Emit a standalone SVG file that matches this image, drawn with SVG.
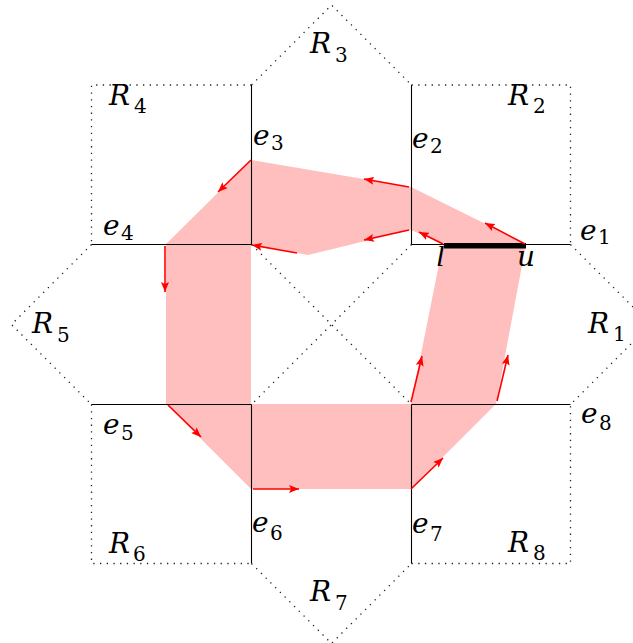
<svg xmlns="http://www.w3.org/2000/svg" width="633" height="643" viewBox="0 0 633 643">
<defs>
<marker id="ah" markerWidth="11" markerHeight="8" refX="10" refY="4" orient="auto" markerUnits="userSpaceOnUse">
<path d="M0,0 L10,4 L0,8 L2,4 Z" fill="#ff0000"/>
</marker>
<style>
.edge{stroke:#000;stroke-width:1.1;fill:none}
.dot{stroke:#222;stroke-width:1.3;fill:none;stroke-dasharray:1.3 5.4}
.flow{stroke:#ff0000;stroke-width:1.6;fill:none;marker-end:url(#ah)}
.sub{font-style:normal;font-size:20px}
</style>
</defs>
<rect width="633" height="643" fill="#fff"/>
<g id="band">
<path d="M526,244 L411,187 L251,160 L166,244 L166,404 L251,489 L411,489 L496,404 Z M443,244 L411,404 L251,404 L251,244 L308,255 L411,230 Z" fill="#ffbfbf" fill-rule="evenodd"/>
</g>
<g id="dotted">
<path class="dot" d="M251.5,85 L91.5,85 L91.5,244.5"/>
<path class="dot" d="M411.5,85 L570.5,85 L570.5,244.5"/>
<path class="dot" d="M91.5,404.5 L91.5,563.5 L251.5,563.5"/>
<path class="dot" d="M411.5,563.5 L570.5,563.5 L570.5,404.5"/>
<path class="dot" d="M251.5,85 L331.5,5 L411.5,85"/>
<path class="dot" d="M91.5,244.5 L11.5,324.5 L91.5,404.5"/>
<path class="dot" d="M251.5,563.5 L331.5,643.5 L411.5,563.5"/>
<path class="dot" d="M570.5,244.5 L650.5,324.5 L570.5,404.5"/>
<path class="dot" d="M251.5,244.5 L411.5,404.5 M411.5,244.5 L251.5,404.5"/>
</g>
<g id="edges">
<line id="e1" class="edge" x1="411.5" y1="244.5" x2="570.5" y2="244.5"/>
<line id="e2" class="edge" x1="411.5" y1="85" x2="411.5" y2="244.5"/>
<line id="e3" class="edge" x1="251.5" y1="85" x2="251.5" y2="244.5"/>
<line id="e4" class="edge" x1="91.5" y1="244.5" x2="251.5" y2="244.5"/>
<line id="e5" class="edge" x1="91.5" y1="404.5" x2="251.5" y2="404.5"/>
<line id="e6" class="edge" x1="251.5" y1="404.5" x2="251.5" y2="563.5"/>
<line id="e7" class="edge" x1="411.5" y1="404.5" x2="411.5" y2="563.5"/>
<line id="e8" class="edge" x1="411.5" y1="404.5" x2="570.5" y2="404.5"/>
<rect id="lu" x="444" y="243" width="82" height="5.5" fill="#000"/>
</g>
<g id="connectors">
<line class="flow" x1="525" y1="244" x2="485" y2="223"/>
<line class="flow" x1="443" y1="244" x2="419" y2="232"/>
<line class="flow" x1="409" y1="187" x2="364" y2="179"/>
<line class="flow" x1="409" y1="230" x2="364" y2="240"/>
<line class="flow" x1="297" y1="253" x2="252" y2="245"/>
<line class="flow" x1="251" y1="160" x2="218" y2="192"/>
<line class="flow" x1="165" y1="246" x2="165" y2="292"/>
<line class="flow" x1="168" y1="405" x2="201" y2="437"/>
<line class="flow" x1="253" y1="489" x2="299" y2="489"/>
<line class="flow" x1="411" y1="489" x2="443" y2="458"/>
<line class="flow" x1="411" y1="402" x2="422" y2="356"/>
<line class="flow" x1="497" y1="401" x2="508" y2="355"/>
</g>
<g id="labels" font-family="DejaVu Serif, serif" font-style="italic" font-size="28" fill="#000">
<text x="109" y="105">R<tspan class="sub" x="134" y="113">4</tspan></text>
<text x="310" y="53">R<tspan class="sub" x="335" y="62">3</tspan></text>
<text x="508" y="105">R<tspan class="sub" x="533" y="113">2</tspan></text>
<text x="32" y="333">R<tspan class="sub" x="57" y="342">5</tspan></text>
<text x="588" y="333">R<tspan class="sub" x="613" y="341">1</tspan></text>
<text x="109" y="553">R<tspan class="sub" x="133" y="561">6</tspan></text>
<text x="310" y="601">R<tspan class="sub" x="335" y="610">7</tspan></text>
<text x="508" y="552">R<tspan class="sub" x="533" y="560">8</tspan></text>
<text x="580" y="240">e<tspan class="sub" x="598" y="244">1</tspan></text>
<text x="412" y="148">e<tspan class="sub" x="430" y="153">2</tspan></text>
<text x="253" y="145">e<tspan class="sub" x="271" y="150">3</tspan></text>
<text x="103" y="235">e<tspan class="sub" x="121" y="240">4</tspan></text>
<text x="103" y="434">e<tspan class="sub" x="121" y="440">5</tspan></text>
<text x="252" y="532">e<tspan class="sub" x="270" y="540">6</tspan></text>
<text x="412" y="533">e<tspan class="sub" x="430" y="541">7</tspan></text>
<text x="581" y="423">e<tspan class="sub" x="599" y="430">8</tspan></text>
<text x="436" y="266" font-family="Liberation Serif, serif" font-size="30">l</text>
<text x="517" y="266">u</text>
</g>
</svg>
